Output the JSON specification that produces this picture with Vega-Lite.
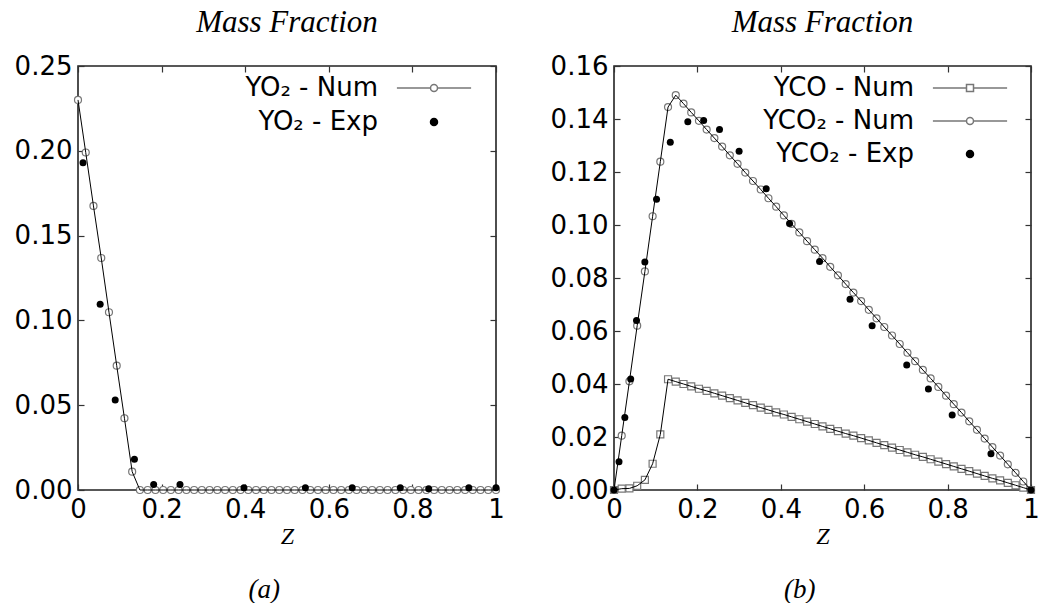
{
  "$schema": "https://vega.github.io/schema/vega-lite/v6.json",
  "background": "white",
  "padding": {"left": 13, "top": 6, "right": 0, "bottom": 0},
  "config": {
    "view": {"stroke": "#222", "strokeWidth": 1.6},
    "axis": {"labelFont": "DejaVu Sans", "labelFontSize": 26, "labelColor": "black", "tickColor": "#333", "tickWidth": 1.2, "tickSize": -6, "labelPadding": 12, "grid": false, "domain": false, "titleFont": "Liberation Serif", "titleFontStyle": "italic", "titleFontWeight": "normal", "titleFontSize": 24, "titleColor": "black", "labelFlush": false},
    "title": {"font": "Liberation Serif", "fontStyle": "italic", "fontWeight": "normal", "fontSize": 31, "color": "black"},
    "legend": {"labelColor": "black", "labelFont": "DejaVu Sans", "labelFontSize": 26, "padding": 0}
  },
  "datasets": {
    "left": [
      {"z":0,"y":0.23,"s":"YO₂ - Num"},{"z":0.0185,"y":0.199,"s":"YO₂ - Num"},{"z":0.037,"y":0.1675,"s":"YO₂ - Num"},{"z":0.0556,"y":0.1368,"s":"YO₂ - Num"},{"z":0.0741,"y":0.1048,"s":"YO₂ - Num"},{"z":0.0926,"y":0.0733,"s":"YO₂ - Num"},{"z":0.1111,"y":0.0423,"s":"YO₂ - Num"},{"z":0.1296,"y":0.0108,"s":"YO₂ - Num"},{"z":0.1481,"y":0,"s":"YO₂ - Num"},{"z":0.1667,"y":0,"s":"YO₂ - Num"},{"z":0.1852,"y":0,"s":"YO₂ - Num"},{"z":0.2037,"y":0,"s":"YO₂ - Num"},{"z":0.2222,"y":0,"s":"YO₂ - Num"},{"z":0.2407,"y":0,"s":"YO₂ - Num"},{"z":0.2593,"y":0,"s":"YO₂ - Num"},{"z":0.2778,"y":0,"s":"YO₂ - Num"},{"z":0.2963,"y":0,"s":"YO₂ - Num"},{"z":0.3148,"y":0,"s":"YO₂ - Num"},{"z":0.3333,"y":0,"s":"YO₂ - Num"},{"z":0.3519,"y":0,"s":"YO₂ - Num"},{"z":0.3704,"y":0,"s":"YO₂ - Num"},{"z":0.3889,"y":0,"s":"YO₂ - Num"},{"z":0.4074,"y":0,"s":"YO₂ - Num"},{"z":0.4259,"y":0,"s":"YO₂ - Num"},{"z":0.4444,"y":0,"s":"YO₂ - Num"},{"z":0.463,"y":0,"s":"YO₂ - Num"},{"z":0.4815,"y":0,"s":"YO₂ - Num"},{"z":0.5,"y":0,"s":"YO₂ - Num"},{"z":0.5185,"y":0,"s":"YO₂ - Num"},{"z":0.537,"y":0,"s":"YO₂ - Num"},{"z":0.5556,"y":0,"s":"YO₂ - Num"},{"z":0.5741,"y":0,"s":"YO₂ - Num"},{"z":0.5926,"y":0,"s":"YO₂ - Num"},{"z":0.6111,"y":0,"s":"YO₂ - Num"},{"z":0.6296,"y":0,"s":"YO₂ - Num"},{"z":0.6481,"y":0,"s":"YO₂ - Num"},{"z":0.6667,"y":0,"s":"YO₂ - Num"},{"z":0.6852,"y":0,"s":"YO₂ - Num"},{"z":0.7037,"y":0,"s":"YO₂ - Num"},{"z":0.7222,"y":0,"s":"YO₂ - Num"},{"z":0.7407,"y":0,"s":"YO₂ - Num"},{"z":0.7593,"y":0,"s":"YO₂ - Num"},{"z":0.7778,"y":0,"s":"YO₂ - Num"},{"z":0.7963,"y":0,"s":"YO₂ - Num"},{"z":0.8148,"y":0,"s":"YO₂ - Num"},{"z":0.8333,"y":0,"s":"YO₂ - Num"},{"z":0.8519,"y":0,"s":"YO₂ - Num"},{"z":0.8704,"y":0,"s":"YO₂ - Num"},{"z":0.8889,"y":0,"s":"YO₂ - Num"},{"z":0.9074,"y":0,"s":"YO₂ - Num"},{"z":0.9259,"y":0,"s":"YO₂ - Num"},{"z":0.9444,"y":0,"s":"YO₂ - Num"},{"z":0.963,"y":0,"s":"YO₂ - Num"},{"z":0.9815,"y":0,"s":"YO₂ - Num"},{"z":1,"y":0,"s":"YO₂ - Num"},
      {"z":0.012,"y":0.193,"s":"YO₂ - Exp"},{"z":0.053,"y":0.1095,"s":"YO₂ - Exp"},{"z":0.089,"y":0.0531,"s":"YO₂ - Exp"},{"z":0.135,"y":0.0181,"s":"YO₂ - Exp"},{"z":0.181,"y":0.0033,"s":"YO₂ - Exp"},{"z":0.244,"y":0.0033,"s":"YO₂ - Exp"},{"z":0.397,"y":0.0014,"s":"YO₂ - Exp"},{"z":0.544,"y":0.0014,"s":"YO₂ - Exp"},{"z":0.656,"y":0.0014,"s":"YO₂ - Exp"},{"z":0.771,"y":0.0014,"s":"YO₂ - Exp"},{"z":0.839,"y":0.0008,"s":"YO₂ - Exp"},{"z":0.935,"y":0.0014,"s":"YO₂ - Exp"},{"z":1,"y":0.0014,"s":"YO₂ - Exp"}
    ],
    "right": [
      {"z":0,"y":0,"s":"YCO - Num"},{"z":0.0185,"y":0.0005,"s":"YCO - Num"},{"z":0.037,"y":0.0006,"s":"YCO - Num"},{"z":0.0556,"y":0.0016,"s":"YCO - Num"},{"z":0.0741,"y":0.0038,"s":"YCO - Num"},{"z":0.0926,"y":0.0099,"s":"YCO - Num"},{"z":0.1111,"y":0.021,"s":"YCO - Num"},{"z":0.1296,"y":0.0418,"s":"YCO - Num"},{"z":0.1481,"y":0.0409,"s":"YCO - Num"},{"z":0.1667,"y":0.04,"s":"YCO - Num"},{"z":0.1852,"y":0.0391,"s":"YCO - Num"},{"z":0.2037,"y":0.0382,"s":"YCO - Num"},{"z":0.2222,"y":0.0374,"s":"YCO - Num"},{"z":0.2407,"y":0.0365,"s":"YCO - Num"},{"z":0.2593,"y":0.0356,"s":"YCO - Num"},{"z":0.2778,"y":0.0347,"s":"YCO - Num"},{"z":0.2963,"y":0.0338,"s":"YCO - Num"},{"z":0.3148,"y":0.0329,"s":"YCO - Num"},{"z":0.3333,"y":0.032,"s":"YCO - Num"},{"z":0.3519,"y":0.0311,"s":"YCO - Num"},{"z":0.3704,"y":0.0302,"s":"YCO - Num"},{"z":0.3889,"y":0.0293,"s":"YCO - Num"},{"z":0.4074,"y":0.0285,"s":"YCO - Num"},{"z":0.4259,"y":0.0276,"s":"YCO - Num"},{"z":0.4444,"y":0.0267,"s":"YCO - Num"},{"z":0.463,"y":0.0258,"s":"YCO - Num"},{"z":0.4815,"y":0.0249,"s":"YCO - Num"},{"z":0.5,"y":0.024,"s":"YCO - Num"},{"z":0.5185,"y":0.0231,"s":"YCO - Num"},{"z":0.537,"y":0.0222,"s":"YCO - Num"},{"z":0.5556,"y":0.0213,"s":"YCO - Num"},{"z":0.5741,"y":0.0205,"s":"YCO - Num"},{"z":0.5926,"y":0.0196,"s":"YCO - Num"},{"z":0.6111,"y":0.0187,"s":"YCO - Num"},{"z":0.6296,"y":0.0178,"s":"YCO - Num"},{"z":0.6481,"y":0.0169,"s":"YCO - Num"},{"z":0.6667,"y":0.016,"s":"YCO - Num"},{"z":0.6852,"y":0.0151,"s":"YCO - Num"},{"z":0.7037,"y":0.0142,"s":"YCO - Num"},{"z":0.7222,"y":0.0133,"s":"YCO - Num"},{"z":0.7407,"y":0.0125,"s":"YCO - Num"},{"z":0.7593,"y":0.0116,"s":"YCO - Num"},{"z":0.7778,"y":0.0107,"s":"YCO - Num"},{"z":0.7963,"y":0.0098,"s":"YCO - Num"},{"z":0.8148,"y":0.0089,"s":"YCO - Num"},{"z":0.8333,"y":0.008,"s":"YCO - Num"},{"z":0.8519,"y":0.0071,"s":"YCO - Num"},{"z":0.8704,"y":0.0062,"s":"YCO - Num"},{"z":0.8889,"y":0.0053,"s":"YCO - Num"},{"z":0.9074,"y":0.0044,"s":"YCO - Num"},{"z":0.9259,"y":0.0036,"s":"YCO - Num"},{"z":0.9444,"y":0.0027,"s":"YCO - Num"},{"z":0.963,"y":0.0018,"s":"YCO - Num"},{"z":0.9815,"y":0.0009,"s":"YCO - Num"},{"z":1,"y":0,"s":"YCO - Num"},
      {"z":0,"y":0,"s":"YCO₂ - Num"},{"z":0.0185,"y":0.0205,"s":"YCO₂ - Num"},{"z":0.037,"y":0.041,"s":"YCO₂ - Num"},{"z":0.0556,"y":0.062,"s":"YCO₂ - Num"},{"z":0.0741,"y":0.0825,"s":"YCO₂ - Num"},{"z":0.0926,"y":0.1033,"s":"YCO₂ - Num"},{"z":0.1111,"y":0.1239,"s":"YCO₂ - Num"},{"z":0.1296,"y":0.1445,"s":"YCO₂ - Num"},{"z":0.1481,"y":0.149,"s":"YCO₂ - Num"},{"z":0.1667,"y":0.1458,"s":"YCO₂ - Num"},{"z":0.1852,"y":0.1425,"s":"YCO₂ - Num"},{"z":0.2037,"y":0.1393,"s":"YCO₂ - Num"},{"z":0.2222,"y":0.136,"s":"YCO₂ - Num"},{"z":0.2407,"y":0.1328,"s":"YCO₂ - Num"},{"z":0.2593,"y":0.1296,"s":"YCO₂ - Num"},{"z":0.2778,"y":0.1263,"s":"YCO₂ - Num"},{"z":0.2963,"y":0.1231,"s":"YCO₂ - Num"},{"z":0.3148,"y":0.1198,"s":"YCO₂ - Num"},{"z":0.3333,"y":0.1166,"s":"YCO₂ - Num"},{"z":0.3519,"y":0.1134,"s":"YCO₂ - Num"},{"z":0.3704,"y":0.1101,"s":"YCO₂ - Num"},{"z":0.3889,"y":0.1069,"s":"YCO₂ - Num"},{"z":0.4074,"y":0.1036,"s":"YCO₂ - Num"},{"z":0.4259,"y":0.1004,"s":"YCO₂ - Num"},{"z":0.4444,"y":0.0972,"s":"YCO₂ - Num"},{"z":0.463,"y":0.0939,"s":"YCO₂ - Num"},{"z":0.4815,"y":0.0907,"s":"YCO₂ - Num"},{"z":0.5,"y":0.0875,"s":"YCO₂ - Num"},{"z":0.5185,"y":0.0842,"s":"YCO₂ - Num"},{"z":0.537,"y":0.081,"s":"YCO₂ - Num"},{"z":0.5556,"y":0.0777,"s":"YCO₂ - Num"},{"z":0.5741,"y":0.0745,"s":"YCO₂ - Num"},{"z":0.5926,"y":0.0713,"s":"YCO₂ - Num"},{"z":0.6111,"y":0.068,"s":"YCO₂ - Num"},{"z":0.6296,"y":0.0648,"s":"YCO₂ - Num"},{"z":0.6481,"y":0.0615,"s":"YCO₂ - Num"},{"z":0.6667,"y":0.0583,"s":"YCO₂ - Num"},{"z":0.6852,"y":0.0551,"s":"YCO₂ - Num"},{"z":0.7037,"y":0.0518,"s":"YCO₂ - Num"},{"z":0.7222,"y":0.0486,"s":"YCO₂ - Num"},{"z":0.7407,"y":0.0453,"s":"YCO₂ - Num"},{"z":0.7593,"y":0.0421,"s":"YCO₂ - Num"},{"z":0.7778,"y":0.0389,"s":"YCO₂ - Num"},{"z":0.7963,"y":0.0356,"s":"YCO₂ - Num"},{"z":0.8148,"y":0.0324,"s":"YCO₂ - Num"},{"z":0.8333,"y":0.0292,"s":"YCO₂ - Num"},{"z":0.8519,"y":0.0259,"s":"YCO₂ - Num"},{"z":0.8704,"y":0.0227,"s":"YCO₂ - Num"},{"z":0.8889,"y":0.0194,"s":"YCO₂ - Num"},{"z":0.9074,"y":0.0162,"s":"YCO₂ - Num"},{"z":0.9259,"y":0.013,"s":"YCO₂ - Num"},{"z":0.9444,"y":0.0097,"s":"YCO₂ - Num"},{"z":0.963,"y":0.0065,"s":"YCO₂ - Num"},{"z":0.9815,"y":0.0032,"s":"YCO₂ - Num"},{"z":1,"y":0,"s":"YCO₂ - Num"},
      {"z":0,"y":0,"s":"YCO₂ - Exp"},{"z":0.012,"y":0.0107,"s":"YCO₂ - Exp"},{"z":0.026,"y":0.0274,"s":"YCO₂ - Exp"},{"z":0.04,"y":0.0419,"s":"YCO₂ - Exp"},{"z":0.054,"y":0.064,"s":"YCO₂ - Exp"},{"z":0.074,"y":0.086,"s":"YCO₂ - Exp"},{"z":0.102,"y":0.1097,"s":"YCO₂ - Exp"},{"z":0.135,"y":0.1312,"s":"YCO₂ - Exp"},{"z":0.177,"y":0.139,"s":"YCO₂ - Exp"},{"z":0.215,"y":0.1394,"s":"YCO₂ - Exp"},{"z":0.253,"y":0.136,"s":"YCO₂ - Exp"},{"z":0.3,"y":0.1278,"s":"YCO₂ - Exp"},{"z":0.365,"y":0.1137,"s":"YCO₂ - Exp"},{"z":0.421,"y":0.1006,"s":"YCO₂ - Exp"},{"z":0.493,"y":0.0862,"s":"YCO₂ - Exp"},{"z":0.566,"y":0.072,"s":"YCO₂ - Exp"},{"z":0.619,"y":0.062,"s":"YCO₂ - Exp"},{"z":0.702,"y":0.0472,"s":"YCO₂ - Exp"},{"z":0.754,"y":0.0381,"s":"YCO₂ - Exp"},{"z":0.811,"y":0.0283,"s":"YCO₂ - Exp"},{"z":0.904,"y":0.0137,"s":"YCO₂ - Exp"},{"z":1,"y":0,"s":"YCO₂ - Exp"}
    ]
  },
  "spacing": 43,
  "resolve": {"scale": {"shape": "independent", "fill": "independent", "stroke": "independent"}, "legend": {"shape": "independent", "fill": "independent", "stroke": "independent"}},
  "hconcat": [
    {
      "title": {"text": "(a)", "orient": "bottom", "anchor": "middle", "fontStyle": "italic", "fontSize": 27, "offset": 28, "dx": 5},
      "vconcat": [
        {
          "width": 418, "height": 424,
          "title": {"text": "Mass Fraction", "offset": 14},
          "data": {"name": "left"},
          "resolve": {"axis": {"x": "independent", "y": "independent"}},
          "layer": [
            {
              "transform": [{"filter": "datum.s == 'YO₂ - Num'"}],
              "mark": {"type": "point", "shape": "circle", "size": 49, "strokeWidth": 1.2, "opacity": 1, "fill": "white", "stroke": "#777"},
              "encoding": {
                "x": {"field": "z", "type": "quantitative", "scale": {"domain": [0, 1], "nice": false}, "axis": {"title": "Z", "values": [0, 0.2, 0.4, 0.6, 0.8, 1], "format": "~g", "titlePadding": 2}},
                "y": {"field": "y", "type": "quantitative", "scale": {"domain": [0, 0.25], "nice": false}, "axis": {"title": null, "values": [0, 0.05, 0.1, 0.15, 0.2, 0.25], "format": ".2f"}}
              }
            },
            {
              "transform": [{"filter": "datum.s == 'YO₂ - Num'"}],
              "mark": {"type": "line", "color": "black", "strokeWidth": 1},
              "encoding": {
                "x": {"field": "z", "type": "quantitative", "scale": {"domain": [0, 1], "nice": false}, "axis": {"orient": "top", "labels": false, "title": null, "values": [0, 0.2, 0.4, 0.6, 0.8, 1]}},
                "y": {"field": "y", "type": "quantitative", "scale": {"domain": [0, 0.25], "nice": false}, "axis": {"orient": "right", "labels": false, "title": null, "values": [0, 0.05, 0.1, 0.15, 0.2, 0.25]}}
              }
            },
            {
              "transform": [{"filter": "datum.s == 'YO₂ - Exp'"}],
              "mark": {"type": "point", "shape": "circle", "size": 49, "filled": true, "opacity": 1, "color": "black"},
              "encoding": {
                "x": {"field": "z", "type": "quantitative", "scale": {"domain": [0, 1], "nice": false}, "axis": null},
                "y": {"field": "y", "type": "quantitative", "scale": {"domain": [0, 0.25], "nice": false}, "axis": null}
              }
            },
            {
              "transform": [{"filter": "datum.z > 2"}],
              "mark": {"type": "point", "opacity": 0},
              "encoding": {
                "shape": {"field": "s", "type": "nominal", "scale": {"domain": ["YO₂ - Num", "YO₂ - Exp"], "range": ["M-10.6,0L-1,0M1,0L10.6,0M1,0A1,1,0,1,1,-1,0A1,1,0,1,1,1,0Z", "circle"]},
                  "legend": {"title": null, "orient": "none", "legendX": 343, "legendY": 9, "labelAlign": "right", "labelOffset": -69, "rowPadding": 8, "symbolSize": 49, "symbolStrokeWidth": 1.5, "symbolOpacity": 1}},
                "fill": {"field": "s", "type": "nominal", "scale": {"domain": ["YO₂ - Num", "YO₂ - Exp"], "range": ["white", "black"]}},
                "stroke": {"field": "s", "type": "nominal", "scale": {"domain": ["YO₂ - Num", "YO₂ - Exp"], "range": ["#777", "black"]}}
              }
            }
          ]
        }
      ]
    },
    {
      "title": {"text": "(b)", "orient": "bottom", "anchor": "middle", "fontStyle": "italic", "fontSize": 27, "offset": 28, "dx": 5},
      "vconcat": [
        {
          "width": 417, "height": 424,
          "title": {"text": "Mass Fraction", "offset": 14},
          "data": {"name": "right"},
          "resolve": {"axis": {"x": "independent", "y": "independent"}},
          "layer": [
            {
              "transform": [{"filter": "datum.s == 'YCO - Num'"}],
              "mark": {"type": "point", "shape": "square", "size": 49, "strokeWidth": 1.2, "opacity": 1, "fill": "white", "stroke": "#777"},
              "encoding": {
                "x": {"field": "z", "type": "quantitative", "scale": {"domain": [0, 1], "nice": false}, "axis": {"title": "Z", "values": [0, 0.2, 0.4, 0.6, 0.8, 1], "format": "~g", "titlePadding": 2}},
                "y": {"field": "y", "type": "quantitative", "scale": {"domain": [0, 0.16], "nice": false}, "axis": {"title": null, "values": [0, 0.02, 0.04, 0.06, 0.08, 0.1, 0.12, 0.14, 0.16], "format": ".2f"}}
              }
            },
            {
              "transform": [{"filter": "datum.s == 'YCO₂ - Num'"}],
              "mark": {"type": "point", "shape": "circle", "size": 49, "strokeWidth": 1.2, "opacity": 1, "fill": "white", "stroke": "#777"},
              "encoding": {
                "x": {"field": "z", "type": "quantitative", "scale": {"domain": [0, 1], "nice": false}, "axis": null},
                "y": {"field": "y", "type": "quantitative", "scale": {"domain": [0, 0.16], "nice": false}, "axis": null}
              }
            },
            {
              "transform": [{"filter": "datum.s != 'YCO₂ - Exp'"}],
              "mark": {"type": "line", "color": "black", "strokeWidth": 1},
              "encoding": {
                "x": {"field": "z", "type": "quantitative", "scale": {"domain": [0, 1], "nice": false}, "axis": {"orient": "top", "labels": false, "title": null, "values": [0, 0.2, 0.4, 0.6, 0.8, 1]}},
                "y": {"field": "y", "type": "quantitative", "scale": {"domain": [0, 0.16], "nice": false}, "axis": {"orient": "right", "labels": false, "title": null, "values": [0, 0.02, 0.04, 0.06, 0.08, 0.1, 0.12, 0.14, 0.16]}},
                "detail": {"field": "s", "type": "nominal"}
              }
            },
            {
              "transform": [{"filter": "datum.s == 'YCO₂ - Exp'"}],
              "mark": {"type": "point", "shape": "circle", "size": 49, "filled": true, "opacity": 1, "color": "black"},
              "encoding": {
                "x": {"field": "z", "type": "quantitative", "scale": {"domain": [0, 1], "nice": false}, "axis": null},
                "y": {"field": "y", "type": "quantitative", "scale": {"domain": [0, 0.16], "nice": false}, "axis": null}
              }
            },
            {
              "transform": [{"filter": "datum.z > 2"}],
              "mark": {"type": "point", "opacity": 0},
              "encoding": {
                "shape": {"field": "s", "type": "nominal", "scale": {"domain": ["YCO - Num", "YCO₂ - Num", "YCO₂ - Exp"], "range": ["M-10.6,0L-1,0M1,0L10.6,0M-1,-1L1,-1L1,1L-1,1Z", "M-10.6,0L-1,0M1,0L10.6,0M1,0A1,1,0,1,1,-1,0A1,1,0,1,1,1,0Z", "circle"]},
                  "legend": {"title": null, "orient": "none", "legendX": 343, "legendY": 9, "labelAlign": "right", "labelOffset": -69, "rowPadding": 7, "symbolSize": 49, "symbolStrokeWidth": 1.5, "symbolOpacity": 1}},
                "fill": {"field": "s", "type": "nominal", "scale": {"domain": ["YCO - Num", "YCO₂ - Num", "YCO₂ - Exp"], "range": ["white", "white", "black"]}},
                "stroke": {"field": "s", "type": "nominal", "scale": {"domain": ["YCO - Num", "YCO₂ - Num", "YCO₂ - Exp"], "range": ["#777", "#777", "black"]}}
              }
            }
          ]
        }
      ]
    }
  ]
}
